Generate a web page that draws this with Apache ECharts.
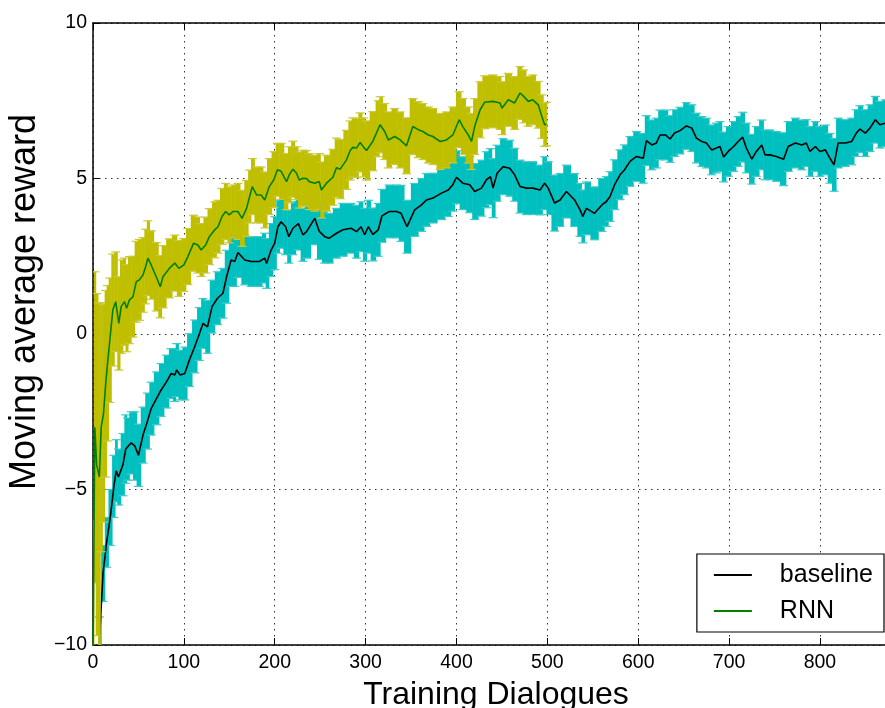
<!DOCTYPE html>
<html>
<head>
<meta charset="utf-8">
<script src="https://cdn.jsdelivr.net/npm/echarts@6/dist/echarts.min.js"></script>
<style>html,body{margin:0;padding:0;background:#fff}</style>
</head>
<body>
<div id="main" style="width:885px;height:708px;"></div>
<script>
// baseline: moving average reward + error half-width
var baseX = [5, 7, 11, 15, 19, 23, 25.5, 28, 33, 36,
  38, 42, 46, 50, 55, 60, 64, 70, 75, 81,
  86, 90, 92, 96, 101, 106, 112, 117, 121, 126,
  131, 137, 143, 147, 152, 156, 159.5, 167, 174, 183,
  189, 191, 196, 200, 203.5, 207, 212, 215.5, 220, 226,
  231, 235, 244, 249, 255, 260, 268, 275, 284, 290,
  295, 299, 303, 308, 314, 318, 326, 334, 339, 345.6,
  354, 361.5, 367, 374, 383.5, 391, 396, 400, 407, 414.6,
  420, 427.5, 433, 437.4, 440.3, 444.7, 451.3, 458.7, 464, 470,
  477, 484, 492, 497, 501, 508, 514, 521, 530, 536,
  539, 543, 552, 560, 565, 569, 574, 580, 585, 591,
  598, 605.5, 609, 615, 620, 624, 630, 635, 640, 646,
  653, 659, 664, 670, 675, 681, 686, 690, 694, 699,
  705, 710, 715, 719, 725, 730, 736, 739.5, 745, 752,
  760, 765, 773, 780, 785, 789, 795, 800, 806, 811,
  815.5, 820, 828, 835, 840, 844, 850, 855, 861, 866, 872];
var baseY = [-11, -9.9, -7.7, -6.7, -5.9, -4.9, -4.4, -4.6, -4.2, -3.7,
  -3.7, -3.5, -3.6, -3.9, -3.25, -2.8, -2.4, -2.07, -1.8, -1.53,
  -1.27, -1.32, -1.16, -1.32, -1.27, -0.84, -0.4, 0.0, 0.34, 0.23,
  0.88, 1.15, 1.31, 1.84, 2.38, 2.33, 2.62, 2.38, 2.33, 2.33,
  2.44, 2.27, 2.7, 2.92, 3.45, 3.61, 3.45, 3.13, 3.4, 3.55,
  3.19, 3.29, 3.72, 3.3, 3.13, 3.08, 3.24, 3.35, 3.4, 3.29,
  3.45, 3.19, 3.45, 3.2, 3.35, 3.8, 3.94, 3.94, 3.88, 3.45,
  3.99, 4.15, 4.31, 4.37, 4.53, 4.63, 4.8, 5.04, 4.85, 4.8,
  4.58, 4.69, 4.96, 5.06, 4.69, 5.17, 5.38, 5.33, 5.12, 4.74,
  4.69, 4.69, 4.63, 4.85, 4.69, 4.21, 4.31, 4.58, 4.31, 3.99,
  3.78, 4.04, 3.88, 4.15, 4.26, 4.42, 4.8, 5.12, 5.28, 5.55,
  5.71, 5.65, 6.22, 6.08, 6.14, 6.4, 6.4, 6.27, 6.46, 6.54,
  6.69, 6.62, 6.3, 6.19, 6.14, 5.92, 5.98, 6.03, 5.69, 5.87,
  6.03, 6.19, 6.33, 5.98, 5.62, 5.87, 6.08, 5.76, 5.76, 5.71,
  5.62, 6.03, 6.14, 6.08, 6.14, 5.87, 6.03, 5.87, 5.92, 5.65,
  5.44, 6.14, 6.14, 6.19, 6.46, 6.59, 6.46, 6.62, 6.89, 6.73, 6.78];
var baseErr = [0.9, 0.8, 0.9, 0.8, 0.9, 1.0, 1.0, 0.9, 1.0, 1.1,
  1.0, 1.0, 1.1, 1.0, 0.9, 0.9, 0.85, 0.85, 0.85, 0.85,
  0.8, 0.85, 0.85, 0.8, 0.85, 0.85, 0.85, 0.85, 0.8, 0.85,
  0.85, 0.85, 0.8, 0.85, 0.85, 0.8, 0.8, 0.8, 0.8, 0.8,
  0.8, 0.8, 0.85, 0.85, 0.85, 0.85, 0.9, 0.85, 0.85, 0.85,
  0.85, 0.85, 0.85, 0.9, 0.85, 0.8, 0.8, 0.85, 0.8, 0.85,
  0.8, 0.85, 0.85, 0.85, 0.85, 0.85, 0.85, 0.85, 0.9, 0.85,
  0.85, 0.85, 0.85, 0.8, 0.85, 0.85, 0.85, 0.85, 0.85, 0.9,
  0.9, 0.9, 0.9, 0.9, 0.95, 0.9, 0.9, 0.9, 0.85, 0.85,
  0.85, 0.85, 0.8, 0.85, 0.85, 0.9, 0.85, 0.85, 0.85, 0.85,
  0.85, 0.85, 0.85, 0.85, 0.8, 0.8, 0.8, 0.8, 0.8, 0.8,
  0.8, 0.8, 0.8, 0.8, 0.8, 0.8, 0.8, 0.75, 0.75, 0.75,
  0.75, 0.75, 0.8, 0.8, 0.8, 0.8, 0.8, 0.8, 0.8, 0.8,
  0.8, 0.8, 0.8, 0.8, 0.8, 0.8, 0.8, 0.8, 0.8, 0.8,
  0.85, 0.8, 0.8, 0.8, 0.75, 0.8, 0.8, 0.8, 0.8, 0.8,
  0.85, 0.8, 0.75, 0.75, 0.75, 0.75, 0.75, 0.75, 0.75, 0.75, 0.75];

// RNN: moving average reward + error half-width
var rnnX = [0, 2, 4, 7, 9, 11.6, 14, 16, 18.5, 21.8,
  25, 28.4, 31, 34.7, 37, 40, 44, 47.6, 51, 55,
  58, 60.4, 64, 69.6, 74, 77, 84, 90, 94.5, 100,
  104.4, 110.7, 115.4, 119, 124, 128, 134, 137.5, 142, 146,
  150, 154, 159.5, 164, 169, 172.4, 175.3, 180, 185, 189,
  194, 199, 203, 207, 213, 216, 220, 224, 227, 231,
  235, 238, 244, 249, 251.3, 257, 264, 268, 272, 279,
  283, 286, 290, 294, 298, 301, 308, 314, 316, 321,
  325, 332, 338, 345, 352, 358, 363, 369, 374, 382,
  389, 396, 403, 407, 413, 416.5, 420, 426, 431, 440,
  448, 450, 457, 464, 470, 474, 479, 484, 490, 494, 497, 499];
var rnnY = [-10.5, -3.0, -4.2, -4.6, -3.0, -2.55, -1.6, -0.94, -0.2, 0.77,
  1.04, 0.34, 0.88, 1.04, 0.83, 1.09, 1.2, 1.68, 1.74, 1.9,
  2.17, 2.44, 2.22, 1.84, 1.52, 1.84, 2.11, 2.28, 2.11, 2.22,
  2.49, 2.92, 2.86, 2.7, 2.86, 3.13, 3.35, 3.45, 3.78, 3.94,
  3.83, 3.94, 3.94, 3.72, 4.04, 4.42, 4.74, 4.47, 4.47, 4.31,
  4.74, 4.96, 5.28, 5.23, 4.9, 5.12, 5.3, 5.17, 4.95, 5.01,
  5.0, 4.9, 4.85, 4.9, 4.63, 4.85, 5.04, 5.35, 5.3, 5.6,
  5.9, 6.0, 5.98, 6.16, 6.0, 5.9, 6.2, 6.6, 6.73, 6.51,
  6.24, 6.35, 6.24, 6.05, 6.67, 6.57, 6.51, 6.4, 6.35, 6.19,
  6.24, 6.4, 6.89, 6.67, 6.4, 6.19, 6.67, 7.21, 7.45, 7.48,
  7.43, 7.26, 7.53, 7.43, 7.75, 7.64, 7.48, 7.53, 7.37, 6.99, 6.73, 6.75];
var rnnErr = [4.5, 5.0, 5.5, 5.6, 4.0, 3.5, 3.0, 2.5, 2.0, 1.8,
  1.6, 1.5, 1.5, 1.4, 1.4, 1.4, 1.3, 1.3, 1.3, 1.2,
  1.2, 1.2, 1.1, 1.1, 1.0, 1.0, 0.95, 0.9, 0.9, 0.85,
  0.9, 0.9, 0.9, 0.85, 0.9, 0.9, 0.9, 0.85, 0.9, 0.9,
  0.9, 0.85, 0.9, 0.9, 0.9, 0.85, 0.9, 0.9, 0.9, 0.9,
  0.9, 0.9, 0.85, 0.9, 0.9, 0.9, 0.9, 0.85, 0.9, 0.9,
  0.9, 0.9, 0.9, 0.9, 0.9, 0.9, 0.9, 0.95, 0.95, 0.95,
  0.95, 0.95, 0.95, 0.95, 0.95, 0.95, 0.95, 0.9, 0.9, 0.9,
  0.9, 0.9, 0.9, 0.9, 0.9, 0.9, 0.9, 0.9, 0.9, 0.9,
  0.9, 0.9, 0.9, 0.9, 0.9, 0.9, 0.9, 0.9, 0.85, 0.85,
  0.85, 0.85, 0.85, 0.85, 0.85, 0.85, 0.8, 0.8, 0.75, 0.7, 0.7, 0.7];

var font = 'Liberation Sans, Arial, sans-serif';

function pairs(xs, ys) {
  return xs.map(function (x, i) { return [x, ys[i]]; });
}

// error bars: one bar per point, widened to touch its neighbours, with caps
function errorBand(name, xs, ys, es, fill, cap, z) {
  var data = xs.map(function (x, i) {
    var p = i > 0 ? (xs[i - 1] + x) / 2 : x - 0.5;
    var n = i < xs.length - 1 ? (x + xs[i + 1]) / 2 : x + 0.5;
    return [x, ys[i], es[i], p, n];
  });
  return {
    name: name + ' err',
    type: 'custom',
    data: data,
    encode: { x: 0, y: 1 },
    clip: true,
    silent: true,
    z: z,
    renderItem: function (params, api) {
      var x = api.value(0), y = api.value(1), e = api.value(2);
      var top = api.coord([x, y + e]);
      var bot = api.coord([x, y - e]);
      var l = api.coord([api.value(3), y])[0];
      var r = api.coord([api.value(4), y])[0];
      return {
        type: 'group',
        children: [
          { type: 'rect', shape: { x: l, y: top[1], width: r - l + 0.5, height: bot[1] - top[1] }, style: { fill: fill } },
          { type: 'line', shape: { x1: top[0] - 4.5, y1: top[1], x2: top[0] + 4.5, y2: top[1] }, style: { stroke: cap, lineWidth: 1.2 } },
          { type: 'line', shape: { x1: bot[0] - 4.5, y1: bot[1], x2: bot[0] + 4.5, y2: bot[1] }, style: { stroke: cap, lineWidth: 1.2 } }
        ]
      };
    }
  };
}

var chart = echarts.init(document.getElementById('main'));
var gridLine = { show: true, lineStyle: { color: '#333', width: 1, type: [1.5, 4.5] } };
var spine = { onZero: false, lineStyle: { color: '#000', width: 1.5 } };

chart.setOption({
  animation: false,
  backgroundColor: '#fff',
  grid: { left: 93, right: -14, top: 23, bottom: 63, containLabel: false, outerBoundsMode: 'none' },
  legend: {
    data: ['baseline', 'RNN'],
    orient: 'vertical',
    right: 1,
    bottom: 76,
    icon: 'rect',
    itemWidth: 38,
    itemHeight: 2,
    itemGap: 6,
    padding: [6, 11, 6, 17],
    borderColor: '#000',
    borderWidth: 1.2,
    backgroundColor: '#fff',
    textStyle: { fontSize: 25, lineHeight: 30, color: '#000', fontFamily: font, padding: [0, 0, 0, 23] }
  },
  xAxis: [{
    type: 'value', min: 0, max: 887, interval: 100,
    name: 'Training Dialogues', nameLocation: 'middle', nameGap: 34,
    nameTextStyle: { fontSize: 32, color: '#000', fontFamily: font },
    axisLine: spine,
    axisTick: { inside: true, length: 7, lineStyle: { color: '#000' } },
    axisLabel: { fontSize: 19.5, color: '#000', fontFamily: font, margin: 8,
      formatter: function (v) { return v > 870 ? '' : String(v); } },
    splitLine: gridLine
  }, {
    type: 'value', position: 'top', min: 0, max: 887, interval: 100,
    axisLine: spine,
    axisTick: { inside: true, length: 7, lineStyle: { color: '#000' } },
    axisLabel: { show: false }, splitLine: { show: false }
  }],
  yAxis: {
    type: 'value', min: -10, max: 10, interval: 5,
    name: 'Moving average reward', nameLocation: 'middle', nameGap: 48,
    nameTextStyle: { fontSize: 36, color: '#000', fontFamily: font, padding: [0, 0, 0, 64] },
    axisLine: spine,
    axisTick: { inside: true, length: 7, lineStyle: { color: '#000' } },
    axisLabel: { fontSize: 19.5, color: '#000', fontFamily: font, margin: 6,
      formatter: function (v) { return String(v).replace('-', '\u2212'); } },
    splitLine: gridLine
  },
  series: [
    errorBand('baseline', baseX, baseY, baseErr, '#00bfbf', '#3fcaca', 1),
    {
      name: 'baseline', type: 'line', data: pairs(baseX, baseY), z: 2,
      showSymbol: false, symbol: 'none', clip: true, color: '#000',
      lineStyle: { color: '#000', width: 1.6 }
    },
    errorBand('RNN', rnnX, rnnY, rnnErr, '#bfbf00', '#c9c93a', 3),
    {
      name: 'RNN', type: 'line', data: pairs(rnnX, rnnY), z: 4,
      showSymbol: false, symbol: 'none', clip: true, color: '#008000',
      lineStyle: { color: '#008000', width: 1.6 }
    }
  ]
});
</script>
</body>
</html>
